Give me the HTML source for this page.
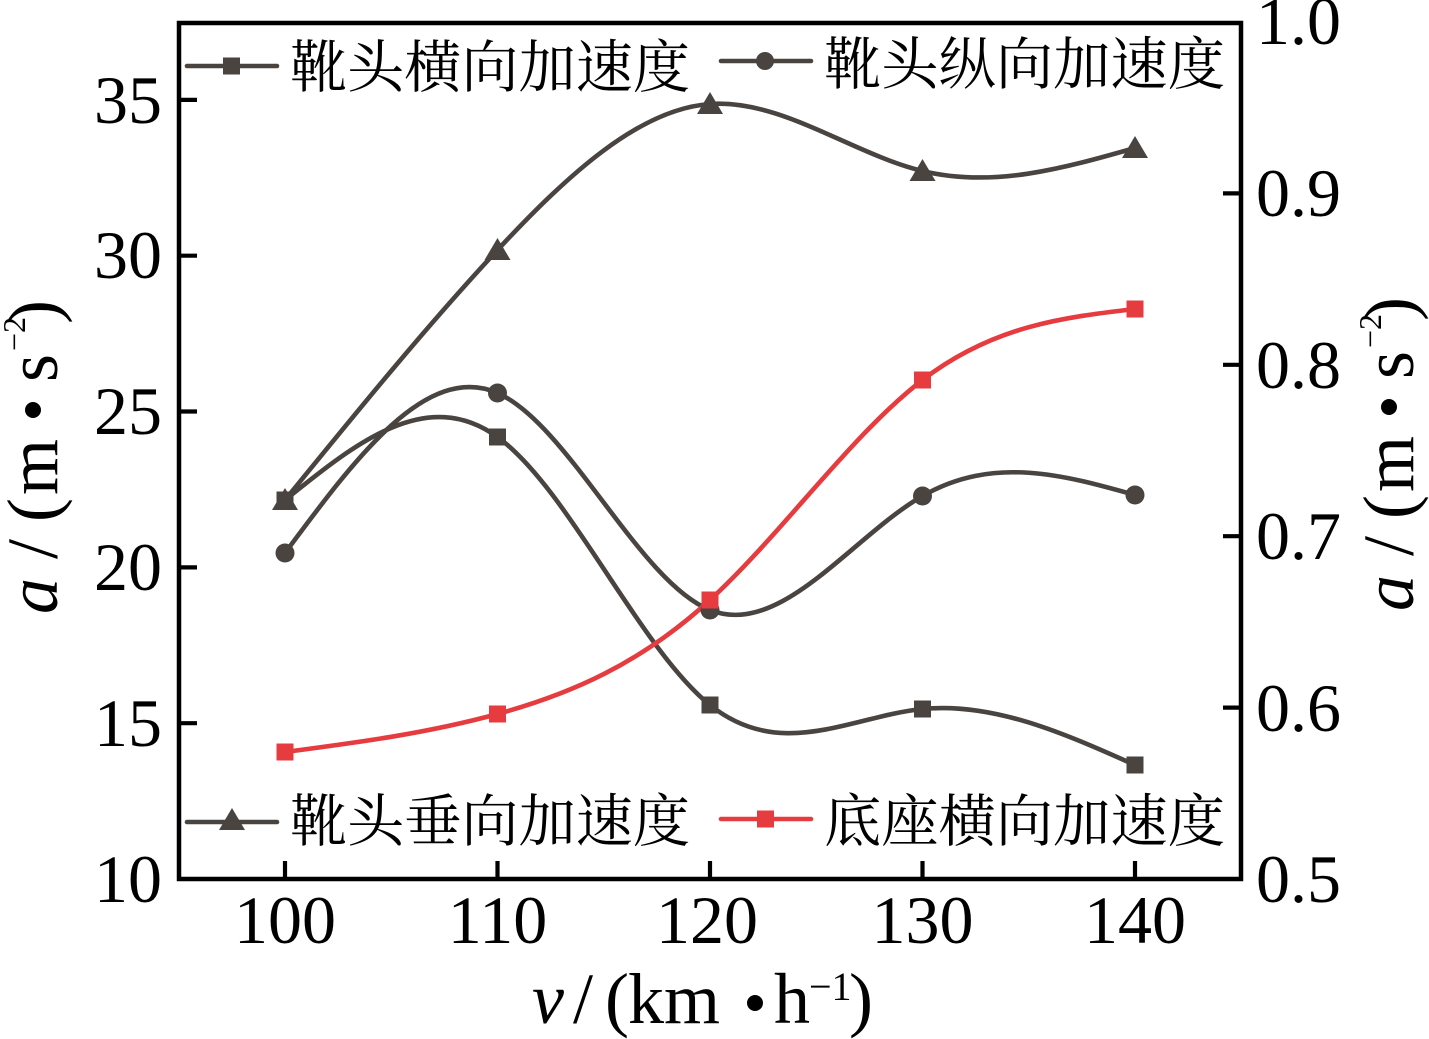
<!DOCTYPE html>
<html>
<head>
<meta charset="utf-8">
<style>
html,body{margin:0;padding:0;background:#fff;}
svg{display:block;}
.tk{font-family:"Liberation Serif","Noto Serif CJK SC",serif;font-size:68px;fill:#000;}
.tt{font-family:"Liberation Serif","Noto Serif CJK SC",serif;font-size:72px;fill:#000;}
.sup{font-family:"Liberation Serif",serif;font-size:40px;fill:#000;}
.supy{font-family:"Liberation Serif",serif;font-size:32px;fill:#000;}
.lg{font-family:"Liberation Serif","Noto Serif CJK SC","Noto Sans CJK SC",serif;font-size:57px;fill:#000;}
</style>
</head>
<body>
<svg width="1429" height="1039" viewBox="0 0 1429 1039" xmlns="http://www.w3.org/2000/svg">
<rect x="0" y="0" width="1429" height="1039" fill="#fff"/>

<path d="M285,500 C355.83,442.85 426.67,385.70 497.5,437 C568.33,488.30 639.17,648.04 710,705 C780.83,761.96 851.67,716.13 922.5,709 C993.33,701.87 1064.17,733.43 1135,765" fill="none" stroke="#4a4440" stroke-width="4.6"/>
<path d="M285,553 C355.83,457.45 426.67,361.90 497.5,393 C568.33,424.10 639.17,581.83 710,610 C780.83,638.17 851.67,536.76 922.5,496 C993.33,455.24 1064.17,475.12 1135,495" fill="none" stroke="#4a4440" stroke-width="4.6"/>
<path d="M285,500 C355.83,412.99 426.67,325.98 497.5,250 C568.33,174.02 639.17,109.08 710,104 C780.83,98.92 851.67,153.69 922.5,171 C993.33,188.31 1064.17,168.16 1135,148" fill="none" stroke="#4a4440" stroke-width="4.6"/>
<path d="M285,752 C355.83,742.71 426.67,733.42 497.5,714 C568.33,694.58 639.17,665.04 710,600 C780.83,534.96 851.67,434.42 922.5,380 C993.33,325.58 1064.17,317.29 1135,309" fill="none" stroke="#e63b3f" stroke-width="4.6"/>

<g fill="#4a4440">
  <rect x="276.5" y="491.5" width="17" height="17"/>
  <rect x="489" y="428.5" width="17" height="17"/>
  <rect x="701.5" y="696.5" width="17" height="17"/>
  <rect x="914" y="700.5" width="17" height="17"/>
  <rect x="1126.5" y="756.5" width="17" height="17"/>

  <circle cx="285" cy="553" r="9.5"/>
  <circle cx="497.5" cy="393" r="9.5"/>
  <circle cx="710" cy="610" r="9.5"/>
  <circle cx="922.5" cy="496" r="9.5"/>
  <circle cx="1135" cy="495" r="9.5"/>

  <polygon points="285,488 272,510 298,510"/>
  <polygon points="497.5,238 484.5,260 510.5,260"/>
  <polygon points="710,92 697,114 723,114"/>
  <polygon points="922.5,159 909.5,181 935.5,181"/>
  <polygon points="1135,136 1122,158 1148,158"/>
</g>
<g fill="#e63b3f">
  <rect x="276.5" y="743.5" width="17" height="17"/>
  <rect x="489" y="705.5" width="17" height="17"/>
  <rect x="701.5" y="591.5" width="17" height="17"/>
  <rect x="914" y="371.5" width="17" height="17"/>
  <rect x="1126.5" y="300.5" width="17" height="17"/>
</g>

<rect x="179" y="23" width="1062" height="856" fill="none" stroke="#000" stroke-width="4.5"/>

<g stroke="#000" stroke-width="4.2">
  <line x1="285" y1="879" x2="285" y2="861"/>
  <line x1="497.5" y1="879" x2="497.5" y2="861"/>
  <line x1="710" y1="879" x2="710" y2="861"/>
  <line x1="922.5" y1="879" x2="922.5" y2="861"/>
  <line x1="1135" y1="879" x2="1135" y2="861"/>
  <line x1="179" y1="723.2" x2="197" y2="723.2"/>
  <line x1="179" y1="567.4" x2="197" y2="567.4"/>
  <line x1="179" y1="411.5" x2="197" y2="411.5"/>
  <line x1="179" y1="255.7" x2="197" y2="255.7"/>
  <line x1="179" y1="99.9" x2="197" y2="99.9"/>
  <line x1="1241" y1="707.6" x2="1223" y2="707.6"/>
  <line x1="1241" y1="536.2" x2="1223" y2="536.2"/>
  <line x1="1241" y1="364.8" x2="1223" y2="364.8"/>
  <line x1="1241" y1="193.4" x2="1223" y2="193.4"/>
</g>

<g class="tk" text-anchor="middle">
  <text x="285" y="943">100</text>
  <text x="497.5" y="943">110</text>
  <text x="707" y="943">120</text>
  <text x="922.5" y="943">130</text>
  <text x="1135" y="943">140</text>
</g>
<g class="tk" text-anchor="end">
  <text x="162" y="902">10</text>
  <text x="162" y="746">15</text>
  <text x="162" y="590">20</text>
  <text x="162" y="434">25</text>
  <text x="162" y="278">30</text>
  <text x="162" y="123">35</text>
</g>
<g class="tk">
  <text x="1256" y="902">0.5</text>
  <text x="1256" y="731">0.6</text>
  <text x="1256" y="559">0.7</text>
  <text x="1256" y="388">0.8</text>
  <text x="1256" y="216">0.9</text>
  <text x="1256" y="44">1.0</text>
</g>

<g class="tt">
  <text x="532" y="1023" font-style="italic">v</text>
  <text x="573" y="1023">/</text>
  <text x="605" y="1023">(</text>
  <text x="628" y="1023">km</text>
  <circle cx="755" cy="1003" r="8" fill="#000"/>
  <text x="774" y="1023">h</text>
  <text class="sup" x="809" y="1000">−1</text>
  <text x="849" y="1023">)</text>
</g>

<g class="tt" transform="translate(57,614) rotate(-90)">
  <text x="0" y="0" font-style="italic">a</text>
  <text x="55" y="0">/</text>
  <text x="92" y="0">(</text>
  <text x="119" y="0">m</text>
  <circle cx="204" cy="-24" r="8" fill="#000"/>
  <text x="232" y="0">s</text>
  <text class="supy" x="263" y="-32">−2</text>
  <text x="290" y="0">)</text>
</g>

<g class="tt" transform="translate(1413,611) rotate(-90)">
  <text x="0" y="0" font-style="italic">a</text>
  <text x="55" y="0">/</text>
  <text x="92" y="0">(</text>
  <text x="119" y="0">m</text>
  <circle cx="204" cy="-24" r="8" fill="#000"/>
  <text x="232" y="0">s</text>
  <text class="supy" x="263" y="-32">−2</text>
  <text x="290" y="0">)</text>
</g>

<line x1="187" y1="66" x2="277" y2="66" stroke="#4a4440" stroke-width="4.6" stroke-linecap="round"/>
<rect x="223" y="57.5" width="17" height="17" fill="#4a4440"/>
<text class="lg" x="290" y="87" textLength="400" lengthAdjust="spacingAndGlyphs">靴头横向加速度</text>

<line x1="721" y1="61" x2="811" y2="61" stroke="#4a4440" stroke-width="4.6" stroke-linecap="round"/>
<circle cx="765" cy="61" r="9" fill="#4a4440"/>
<text class="lg" x="824" y="84" textLength="401" lengthAdjust="spacingAndGlyphs">靴头纵向加速度</text>

<line x1="187" y1="822" x2="277" y2="822" stroke="#4a4440" stroke-width="4.6" stroke-linecap="round"/>
<polygon points="232,808 219,830 245,830" fill="#4a4440"/>
<text class="lg" x="290" y="841" textLength="400" lengthAdjust="spacingAndGlyphs">靴头垂向加速度</text>

<line x1="721" y1="819" x2="811" y2="819" stroke="#e63b3f" stroke-width="4.6" stroke-linecap="round"/>
<rect x="757" y="810.5" width="17" height="17" fill="#e63b3f"/>
<text class="lg" x="824" y="841" textLength="401" lengthAdjust="spacingAndGlyphs">底座横向加速度</text>
</svg>
</body>
</html>
